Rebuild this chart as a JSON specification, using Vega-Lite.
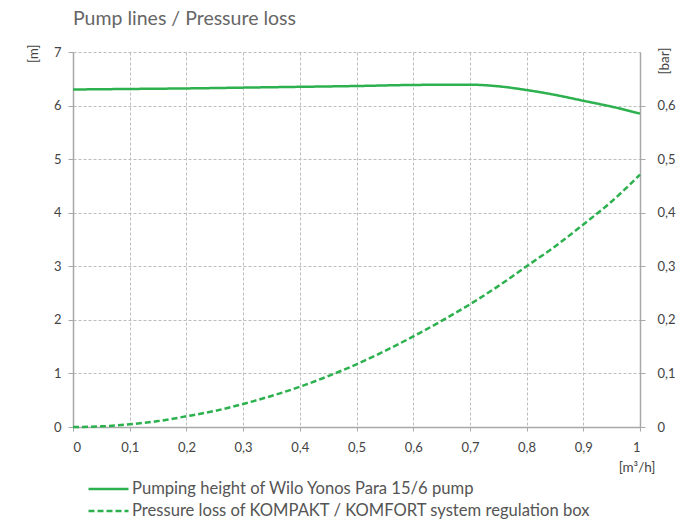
{
  "$schema": "https://vega.github.io/schema/vega-lite/v6.json",
  "width": 567,
  "height": 375,
  "autosize": "none",
  "padding": {"left": 73, "top": 52, "right": 57, "bottom": 93},
  "background": "white",
  "config": {
    "font": "Lato",
    "view": {"stroke": null},
    "axis": {
      "labelFont": "Lato",
      "labelFontSize": 13,
      "labelColor": "#444444",
      "titleFont": "Lato",
      "titleFontSize": 13.5,
      "titleFontWeight": "normal",
      "titleColor": "#444444",
      "domainColor": "#a8a8a8",
      "domainWidth": 1.5,
      "tickColor": "#a8a8a8",
      "gridColor": "#bdbdbd",
      "gridDash": [3, 2],
      "gridWidth": 1
    }
  },
  "title": {
    "text": "Pump lines / Pressure loss",
    "anchor": "start",
    "frame": "group",
    "font": "Lato",
    "fontSize": 19.5,
    "fontWeight": "normal",
    "color": "#666666",
    "offset": 15
  },
  "datasets": {
    "pump": [
      {"q": 0.0, "head_m": 6.30, "series": "Pumping height of Wilo Yonos Para 15/6 pump"},
      {"q": 0.1, "head_m": 6.31, "series": "Pumping height of Wilo Yonos Para 15/6 pump"},
      {"q": 0.2, "head_m": 6.32, "series": "Pumping height of Wilo Yonos Para 15/6 pump"},
      {"q": 0.3, "head_m": 6.335, "series": "Pumping height of Wilo Yonos Para 15/6 pump"},
      {"q": 0.4, "head_m": 6.35, "series": "Pumping height of Wilo Yonos Para 15/6 pump"},
      {"q": 0.5, "head_m": 6.365, "series": "Pumping height of Wilo Yonos Para 15/6 pump"},
      {"q": 0.6, "head_m": 6.385, "series": "Pumping height of Wilo Yonos Para 15/6 pump"},
      {"q": 0.7, "head_m": 6.39, "series": "Pumping height of Wilo Yonos Para 15/6 pump"},
      {"q": 0.75, "head_m": 6.36, "series": "Pumping height of Wilo Yonos Para 15/6 pump"},
      {"q": 0.8, "head_m": 6.29, "series": "Pumping height of Wilo Yonos Para 15/6 pump"},
      {"q": 0.85, "head_m": 6.20, "series": "Pumping height of Wilo Yonos Para 15/6 pump"},
      {"q": 0.9, "head_m": 6.09, "series": "Pumping height of Wilo Yonos Para 15/6 pump"},
      {"q": 0.95, "head_m": 5.98, "series": "Pumping height of Wilo Yonos Para 15/6 pump"},
      {"q": 1.0, "head_m": 5.85, "series": "Pumping height of Wilo Yonos Para 15/6 pump"}
    ],
    "loss": [
      {"q": 0.0, "loss_bar": 0.0, "series": "Pressure loss of KOMPAKT / KOMFORT system regulation box"},
      {"q": 0.05, "loss_bar": 0.0012, "series": "Pressure loss of KOMPAKT / KOMFORT system regulation box"},
      {"q": 0.1, "loss_bar": 0.005, "series": "Pressure loss of KOMPAKT / KOMFORT system regulation box"},
      {"q": 0.15, "loss_bar": 0.011, "series": "Pressure loss of KOMPAKT / KOMFORT system regulation box"},
      {"q": 0.2, "loss_bar": 0.02, "series": "Pressure loss of KOMPAKT / KOMFORT system regulation box"},
      {"q": 0.25, "loss_bar": 0.03, "series": "Pressure loss of KOMPAKT / KOMFORT system regulation box"},
      {"q": 0.3, "loss_bar": 0.043, "series": "Pressure loss of KOMPAKT / KOMFORT system regulation box"},
      {"q": 0.35, "loss_bar": 0.058, "series": "Pressure loss of KOMPAKT / KOMFORT system regulation box"},
      {"q": 0.4, "loss_bar": 0.075, "series": "Pressure loss of KOMPAKT / KOMFORT system regulation box"},
      {"q": 0.45, "loss_bar": 0.095, "series": "Pressure loss of KOMPAKT / KOMFORT system regulation box"},
      {"q": 0.5, "loss_bar": 0.117, "series": "Pressure loss of KOMPAKT / KOMFORT system regulation box"},
      {"q": 0.55, "loss_bar": 0.142, "series": "Pressure loss of KOMPAKT / KOMFORT system regulation box"},
      {"q": 0.6, "loss_bar": 0.169, "series": "Pressure loss of KOMPAKT / KOMFORT system regulation box"},
      {"q": 0.65, "loss_bar": 0.198, "series": "Pressure loss of KOMPAKT / KOMFORT system regulation box"},
      {"q": 0.7, "loss_bar": 0.229, "series": "Pressure loss of KOMPAKT / KOMFORT system regulation box"},
      {"q": 0.75, "loss_bar": 0.263, "series": "Pressure loss of KOMPAKT / KOMFORT system regulation box"},
      {"q": 0.8, "loss_bar": 0.300, "series": "Pressure loss of KOMPAKT / KOMFORT system regulation box"},
      {"q": 0.85, "loss_bar": 0.337, "series": "Pressure loss of KOMPAKT / KOMFORT system regulation box"},
      {"q": 0.9, "loss_bar": 0.378, "series": "Pressure loss of KOMPAKT / KOMFORT system regulation box"},
      {"q": 0.95, "loss_bar": 0.421, "series": "Pressure loss of KOMPAKT / KOMFORT system regulation box"},
      {"q": 1.0, "loss_bar": 0.471, "series": "Pressure loss of KOMPAKT / KOMFORT system regulation box"}
    ]
  },
  "layer": [
    {
      "data": {"name": "pump"},
      "mark": {"type": "line", "interpolate": "monotone", "strokeWidth": 2.5, "color": "#2db14f"},
      "encoding": {
        "x": {
          "field": "q", "type": "quantitative",
          "scale": {"domain": [0, 1], "nice": false},
          "axis": {
            "values": [0, 0.1, 0.2, 0.3, 0.4, 0.5, 0.6, 0.7, 0.8, 0.9, 1],
            "labelExpr": "datum.value == 0 || datum.value == 1 ? format(datum.value, 'd') : replace(format(datum.value, '.1f'), '.', ',')",
            "tickSize": 4,
            "labelPadding": 10,
            "title": "[m³/h]",
            "titleX": 582,
            "titleY": 40,
            "titleAlign": "right",
            "titleBaseline": "middle"
          }
        },
        "y": {
          "field": "head_m", "type": "quantitative",
          "scale": {"domain": [0, 7], "nice": false},
          "axis": {
            "orient": "left",
            "values": [0, 1, 2, 3, 4, 5, 6, 7],
            "tickSize": 5,
            "labelPadding": 7,
            "title": "[m]",
            "titleAngle": 270,
            "titleX": -40,
            "titleY": -8,
            "titleAlign": "right",
            "titleBaseline": "middle"
          }
        },
        "strokeDash": {
          "field": "series", "type": "nominal",
          "scale": {
            "domain": ["Pumping height of Wilo Yonos Para 15/6 pump", "Pressure loss of KOMPAKT / KOMFORT system regulation box"],
            "range": [[1, 0], [6, 3]]
          },
          "legend": {
            "title": null,
            "orient": "none",
            "legendX": 14,
            "legendY": 427,
            "symbolType": "stroke",
            "symbolSize": 1600,
            "symbolStrokeWidth": 2.5,
            "symbolStrokeColor": "#2db14f",
            "symbolDash": [5, 3],
            "labelFont": "Lato",
            "labelFontSize": 16.6,
            "labelColor": "#555555",
            "labelOffset": 2,
            "clipHeight": 20,
            "rowPadding": 2,
            "labelLimit": 600
          }
        }
      }
    },
    {
      "data": {"name": "loss"},
      "mark": {"type": "line", "interpolate": "monotone", "strokeWidth": 2.5, "color": "#2db14f"},
      "encoding": {
        "x": {"field": "q", "type": "quantitative"},
        "y": {
          "field": "loss_bar", "type": "quantitative",
          "scale": {"domain": [0, 0.7], "nice": false},
          "axis": {
            "orient": "right",
            "values": [0, 0.1, 0.2, 0.3, 0.4, 0.5, 0.6],
            "labelExpr": "datum.value == 0 ? '0' : replace(format(datum.value, '.1f'), '.', ',')",
            "grid": false,
            "tickSize": 5,
            "labelPadding": 12,
            "title": "[bar]",
            "titleAngle": 270,
            "titleX": 24,
            "titleY": -5,
            "titleAlign": "right",
            "titleBaseline": "middle"
          }
        },
        "strokeDash": {"field": "series", "type": "nominal"}
      }
    }
  ],
  "resolve": {"scale": {"y": "independent"}, "axis": {"y": "independent"}}
}
